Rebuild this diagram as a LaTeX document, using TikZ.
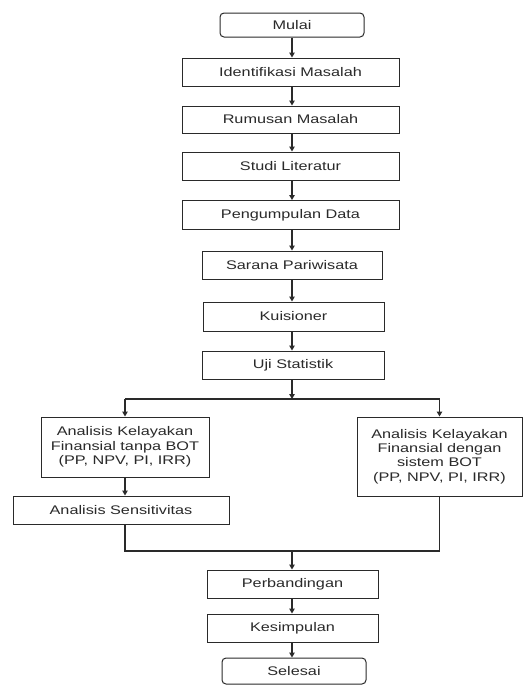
\documentclass[tikz,border=0pt]{standalone}
\usepackage{fontspec}
\setmainfont{Liberation Sans}[FakeStretch=1.3]
\usetikzlibrary{arrows.meta}
\definecolor{ink}{HTML}{2A2A2A}
\tikzset{
  box/.style={draw=ink, line width=1pt, fill=white, text=ink, align=center,
    inner sep=1pt, font=\fontsize{12.5}{14.3}\selectfont},
  term/.style={box, rounded corners=4pt},
  flow/.style={draw=ink, line width=1.2pt, -{Triangle[length=5pt,width=5.5pt]}},
  link/.style={draw=ink, line width=1.2pt}
}
\begin{document}
\begin{tikzpicture}[x=1pt,y=-1pt]
\useasboundingbox (0,0) rectangle (527,686);
\node[term, minimum width=144pt, minimum height=24pt] (mulai) at (292,25) {Mulai};
\node[box, minimum width=217pt, minimum height=28pt] (ident) at (290.5,72) {Identifikasi Masalah};
\node[box, minimum width=217pt, minimum height=27pt] (rumus) at (290.5,119.5) {Rumusan Masalah};
\node[box, minimum width=217pt, minimum height=28pt] (studi) at (290.5,166) {Studi Literatur};
\node[box, minimum width=217pt, minimum height=29pt] (kumpul) at (290.5,215) {Pengumpulan Data};
\node[box, minimum width=180pt, minimum height=28pt] (sarana) at (292,265) {Sarana Pariwisata};
\node[box, minimum width=181pt, minimum height=29pt] (kuis) at (293.5,316.5) {Kuisioner};
\node[box, minimum width=182pt, minimum height=28pt] (uji) at (293,365) {Uji Statistik};
\node[box, minimum width=168pt, minimum height=60pt] (kiri) at (125,447) {Analisis Kelayakan\\Finansial tanpa BOT\\(PP, NPV, PI, IRR)};
\node[box, minimum width=165pt, minimum height=79pt] (kanan) at (439.5,456.5) {Analisis Kelayakan\\Finansial dengan\\sistem BOT\\(PP, NPV, PI, IRR)};
\node[box, minimum width=216pt, minimum height=28pt] (sens) at (121,510) {Analisis Sensitivitas};
\node[box, minimum width=171pt, minimum height=28pt] (banding) at (292.5,584) {Perbandingan};
\node[box, minimum width=171pt, minimum height=28pt] (simpul) at (292.5,628) {Kesimpulan};
\node[term, minimum width=144pt, minimum height=26pt] (selesai) at (294,671) {Selesai};

\coordinate (xl) at (292,0);
\coordinate (split) at (292,399);
\coordinate (merge) at (292,551);

\draw[flow] (mulai.south -| xl) -- (ident.north -| xl);
\draw[flow] (ident.south -| xl) -- (rumus.north -| xl);
\draw[flow] (rumus.south -| xl) -- (studi.north -| xl);
\draw[flow] (studi.south -| xl) -- (kumpul.north -| xl);
\draw[flow] (kumpul.south -| xl) -- (sarana.north -| xl);
\draw[flow] (sarana.south -| xl) -- (kuis.north -| xl);
\draw[flow] (kuis.south -| xl) -- (uji.north -| xl);
\draw[flow] (uji.south -| xl) -- (split);
\draw[link] (kiri.north |- split) -- (kanan.north |- split);
\draw[flow] (kiri.north |- split) -- (kiri.north);
\draw[flow] (kanan.north |- split) -- (kanan.north);
\draw[flow] (kiri.south) -- (kiri.south |- sens.north);
\draw[link] (kiri.south |- sens.south) -- (kiri.south |- merge) -- (kanan.south |- merge) -- (kanan.south);
\draw[flow] (merge) -- (banding.north -| merge);
\draw[flow] (banding.south -| xl) -- (simpul.north -| xl);
\draw[flow] (simpul.south -| xl) -- (selesai.north -| xl);
\end{tikzpicture}
\end{document}
